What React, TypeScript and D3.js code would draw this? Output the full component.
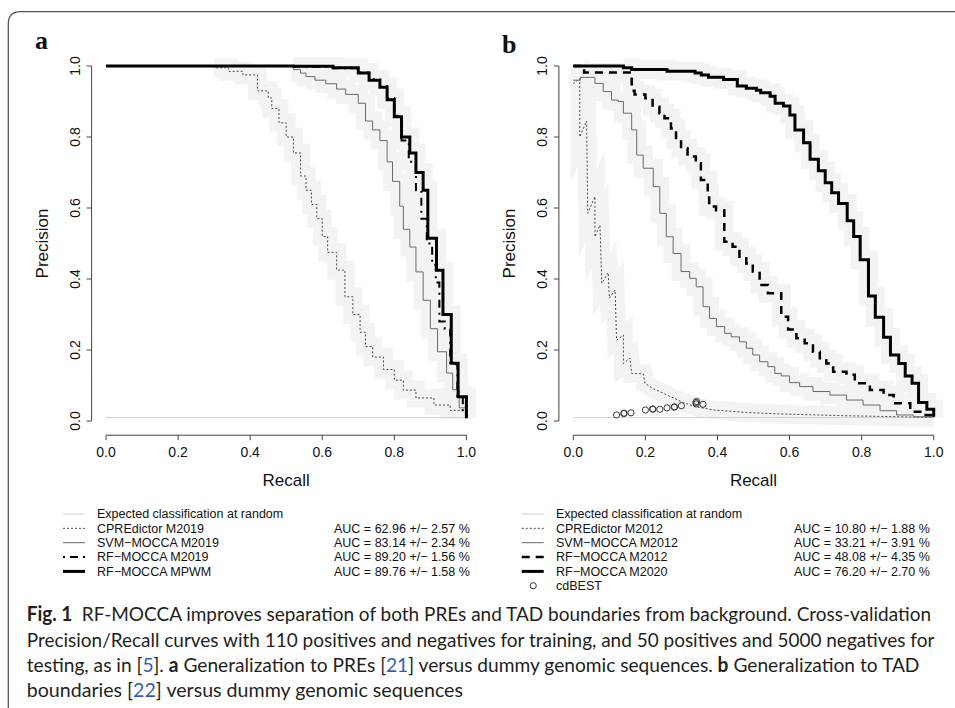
import React, { useLayoutEffect, useRef, useState } from "react";
import * as d3 from "d3";

// ---------- shared ----------
const TICK_VALUES = [0, 0.2, 0.4, 0.6, 0.8, 1.0];
const TICK_LABELS = ["0.0", "0.2", "0.4", "0.6", "0.8", "1.0"];
const RANDOM_PRECISION = 50 / 5050;

// ---------- panel a ----------
const aCpreRecall = [0, 0.30, 0.34, 0.38, 0.42, 0.45, 0.46, 0.48, 0.50, 0.52, 0.54, 0.555, 0.57, 0.585, 0.60, 0.615, 0.64, 0.663, 0.685, 0.705, 0.72, 0.74, 0.77, 0.80, 0.825, 0.86, 0.91, 0.955, 1.0];
const aCprePrecision = [1.0, 0.995, 0.985, 0.975, 0.93, 0.91, 0.88, 0.84, 0.80, 0.755, 0.69, 0.65, 0.61, 0.57, 0.52, 0.475, 0.425, 0.35, 0.30, 0.25, 0.21, 0.18, 0.145, 0.115, 0.087, 0.065, 0.045, 0.03, 0.017];

const aSvmRecall = [0, 0.52, 0.54, 0.555, 0.58, 0.61, 0.64, 0.665, 0.70, 0.72, 0.74, 0.76, 0.78, 0.795, 0.815, 0.825, 0.843, 0.86, 0.88, 0.90, 0.92, 0.945, 0.962, 0.98, 1.0];
const aSvmPrecision = [1.0, 0.99, 0.98, 0.97, 0.96, 0.95, 0.935, 0.92, 0.895, 0.845, 0.82, 0.79, 0.73, 0.675, 0.605, 0.54, 0.49, 0.42, 0.34, 0.26, 0.195, 0.135, 0.088, 0.037, 0.01];

const aRfRecall = [0, 0.52, 0.63, 0.70, 0.73, 0.76, 0.78, 0.80, 0.82, 0.84, 0.86, 0.875, 0.89, 0.905, 0.915, 0.925, 0.94, 0.955, 0.975, 0.99, 1.0];
const aRfPrecision = [1.0, 0.998, 0.994, 0.982, 0.963, 0.943, 0.91, 0.86, 0.79, 0.73, 0.65, 0.57, 0.50, 0.44, 0.39, 0.28, 0.26, 0.16, 0.07, 0.03, 0.01];

const aPwmRecall = [0, 0.52, 0.63, 0.70, 0.73, 0.76, 0.78, 0.80, 0.82, 0.843, 0.86, 0.88, 0.893, 0.917, 0.935, 0.958, 0.977, 1.0];
const aPwmPrecision = [1.0, 0.999, 0.995, 0.98, 0.96, 0.94, 0.905, 0.857, 0.80, 0.755, 0.70, 0.65, 0.515, 0.425, 0.30, 0.163, 0.068, 0.008];

const aLegendLabels = ["Expected classification at random", "CPREdictor M2019", "SVM\u2212MOCCA M2019", "RF\u2212MOCCA M2019", "RF\u2212MOCCA MPWM"];
const aLegendAuc = ["", "AUC = 62.96 +/\u2212 2.57 %", "AUC = 83.14 +/\u2212 2.34 %", "AUC = 89.20 +/\u2212 1.56 %", "AUC = 89.76 +/\u2212 1.58 %"];

// ---------- panel b ----------
const bCpreRecall = [0, 0.018, 0.018, 0.037, 0.04, 0.06, 0.06, 0.074, 0.079, 0.097, 0.10, 0.116, 0.12, 0.139, 0.139, 0.157, 0.162, 0.194, 0.199, 0.22, 0.24, 0.26, 0.28, 0.305, 0.34, 0.39, 0.48, 0.57, 0.75, 1.0];
const bCprePrecision = [0.95, 0.965, 0.80, 0.845, 0.585, 0.632, 0.519, 0.552, 0.388, 0.418, 0.346, 0.369, 0.228, 0.242, 0.162, 0.177, 0.134, 0.133, 0.106, 0.092, 0.083, 0.073, 0.064, 0.052, 0.04, 0.031, 0.024, 0.02, 0.015, 0.01];

const bSvmRecall = [0, 0.02, 0.06, 0.083, 0.106, 0.125, 0.139, 0.162, 0.176, 0.194, 0.222, 0.24, 0.258, 0.277, 0.299, 0.323, 0.341, 0.36, 0.378, 0.397, 0.42, 0.438, 0.461, 0.48, 0.498, 0.517, 0.54, 0.559, 0.577, 0.60, 0.628, 0.665, 0.712, 0.758, 0.804, 0.851, 0.897, 0.943, 1.0];
const bSvmPrecision = [0.96, 0.968, 0.951, 0.928, 0.904, 0.90, 0.867, 0.82, 0.749, 0.712, 0.66, 0.585, 0.519, 0.472, 0.421, 0.402, 0.378, 0.322, 0.289, 0.266, 0.247, 0.237, 0.223, 0.205, 0.186, 0.167, 0.153, 0.134, 0.127, 0.108, 0.097, 0.083, 0.073, 0.059, 0.045, 0.029, 0.017, 0.012, 0.01];

const bRfRecall = [0, 0.03, 0.162, 0.17, 0.20, 0.22, 0.239, 0.253, 0.271, 0.285, 0.299, 0.317, 0.34, 0.354, 0.373, 0.377, 0.396, 0.419, 0.442, 0.461, 0.48, 0.498, 0.517, 0.54, 0.577, 0.596, 0.619, 0.642, 0.665, 0.684, 0.702, 0.721, 0.758, 0.781, 0.823, 0.861, 0.889, 0.935, 0.972, 1.0];
const bRfPrecision = [1.0, 0.982, 0.93, 0.92, 0.909, 0.885, 0.867, 0.853, 0.824, 0.792, 0.768, 0.745, 0.726, 0.679, 0.641, 0.604, 0.594, 0.505, 0.491, 0.463, 0.444, 0.421, 0.383, 0.36, 0.294, 0.258, 0.233, 0.219, 0.195, 0.177, 0.162, 0.139, 0.13, 0.106, 0.087, 0.073, 0.05, 0.026, 0.017, 0.012];

const bPwmRecall = [0, 0.139, 0.162, 0.26, 0.338, 0.355, 0.375, 0.417, 0.455, 0.48, 0.508, 0.52, 0.546, 0.56, 0.583, 0.601, 0.615, 0.639, 0.657, 0.68, 0.699, 0.717, 0.736, 0.76, 0.778, 0.796, 0.819, 0.838, 0.861, 0.88, 0.903, 0.921, 0.94, 0.958, 0.981, 1.0];
const bPwmPrecision = [1.0, 0.995, 0.99, 0.985, 0.98, 0.975, 0.968, 0.962, 0.944, 0.937, 0.932, 0.925, 0.915, 0.895, 0.887, 0.862, 0.82, 0.784, 0.737, 0.705, 0.671, 0.643, 0.613, 0.564, 0.52, 0.454, 0.352, 0.292, 0.236, 0.186, 0.162, 0.127, 0.106, 0.052, 0.033, 0.012];

const bCdbestRecall = [0.12, 0.14, 0.141, 0.16, 0.20, 0.22, 0.221, 0.24, 0.26, 0.28, 0.281, 0.30, 0.34, 0.341, 0.342, 0.36];
const bCdbestPrecision = [0.017, 0.021, 0.022, 0.023, 0.031, 0.034, 0.033, 0.033, 0.037, 0.039, 0.040, 0.043, 0.052, 0.048, 0.055, 0.047];

const bLegendLabels = ["Expected classification at random", "CPREdictor M2012", "SVM\u2212MOCCA M2012", "RF\u2212MOCCA M2012", "RF\u2212MOCCA M2020", "cdBEST"];
const bLegendAuc = ["", "AUC = 10.80 +/\u2212 1.88 %", "AUC = 33.21 +/\u2212 3.91 %", "AUC = 48.08 +/\u2212 4.35 %", "AUC = 76.20 +/\u2212 2.70 %", ""];

// ---------- styles ----------
const FONT = "'Liberation Sans', Arial, Helvetica, sans-serif";
type LineStyle = { stroke: string; width: number; dash?: string };
const ST_RANDOM: LineStyle = { stroke: "#d2d2d2", width: 1 };
const ST_CPRE: LineStyle = { stroke: "#4a4a4a", width: 1, dash: "2,2" };
const ST_SVM: LineStyle = { stroke: "#6a6a6a", width: 1 };
const ST_DOTDASH: LineStyle = { stroke: "#000", width: 2, dash: "2,5,8,5" };
const ST_DASH: LineStyle = { stroke: "#000", width: 2.5, dash: "8,6" };
const ST_THICK: LineStyle = { stroke: "#000", width: 3 };
const BAND_COLOR = "#f2f3f2";

type Series = { recall: number[]; precision: number[]; style: LineStyle; linear?: boolean };

function Panel(props: {
  x0: number;
  series: Series[];
  dots?: { recall: number[]; precision: number[] };
  letter: string;
  letterX: number;
  letterY: number;
}) {
  const { x0, series, dots, letter, letterX, letterY } = props;
  const x = d3.scaleLinear().domain([0, 1]).range([x0, x0 + 360.4]);
  const y = d3.scaleLinear().domain([0, 1]).range([421, 66]);
  const axisX = x(-0.04);
  const axisY = y(-0.04);

  const pathFor = (s: Series, from = 0) => {
    const pts: [number, number][] = s.recall.map((r, i) => [r, s.precision[i]] as [number, number]).slice(from);
    return d3
      .line<[number, number]>()
      .x((d) => x(d[0]))
      .y((d) => y(d[1]))
      .curve(s.linear ? d3.curveLinear : d3.curveStepAfter)(pts) as string;
  };
  const bandStart = (s: Series) => {
    const i = s.precision.findIndex((p) => p < 0.999);
    return Math.max(0, i);
  };

  return (
    <g>
      <text x={letterX} y={letterY} fontFamily="'Liberation Serif', 'DejaVu Serif', serif" fontWeight="bold" fontSize={26} fill="#111">
        {letter}
      </text>
      {/* bands */}
      {series.map((s, i) => (
        <path key={"b" + i} d={pathFor(s, bandStart(s))} fill="none" stroke={BAND_COLOR} strokeWidth={19} strokeLinejoin="miter" strokeMiterlimit={10} />
      ))}
      {/* random baseline */}
      <line x1={x(0)} x2={x(1)} y1={y(RANDOM_PRECISION)} y2={y(RANDOM_PRECISION)} stroke={ST_RANDOM.stroke} strokeWidth={ST_RANDOM.width} />
      {/* curves */}
      {series.map((s, i) => (
        <path key={"c" + i} d={pathFor(s)} fill="none" stroke={s.style.stroke} strokeWidth={s.style.width} strokeDasharray={s.style.dash} />
      ))}
      {dots &&
        dots.recall.map((r, i) => (
          <circle key={"d" + i} cx={x(r)} cy={y(dots.precision[i])} r={3.1} fill="none" stroke="#3a3a3a" strokeWidth={1} />
        ))}
      {/* y axis */}
      <line x1={axisX} x2={axisX} y1={y(0)} y2={y(1)} stroke="#444" strokeWidth={1} />
      {TICK_VALUES.map((t, i) => (
        <g key={"yt" + i}>
          <line x1={axisX} x2={axisX - 5} y1={y(t)} y2={y(t)} stroke="#444" strokeWidth={1} />
          <text transform={`translate(${axisX - 12},${y(t)}) rotate(-90)`} textAnchor="middle" fontFamily={FONT} fontSize={14} fill="#111">
            {TICK_LABELS[i]}
          </text>
        </g>
      ))}
      {/* x axis */}
      <line x1={x(0)} x2={x(1)} y1={axisY} y2={axisY} stroke="#444" strokeWidth={1} />
      {TICK_VALUES.map((t, i) => (
        <g key={"xt" + i}>
          <line x1={x(t)} x2={x(t)} y1={axisY} y2={axisY + 5} stroke="#444" strokeWidth={1} />
          <text x={x(t)} y={axisY + 22} textAnchor="middle" fontFamily={FONT} fontSize={14} fill="#111">
            {TICK_LABELS[i]}
          </text>
        </g>
      ))}
      <text x={x(0.5)} y={486} textAnchor="middle" fontFamily={FONT} fontSize={17} fill="#111">
        Recall
      </text>
      <text transform={`translate(${axisX - 44},${y(0.5)}) rotate(-90)`} textAnchor="middle" fontFamily={FONT} fontSize={17} fill="#111">
        Precision
      </text>
    </g>
  );
}

function Legend(props: { lineX: number; textX: number; aucX: number; labels: string[]; auc: string[]; styles: (LineStyle | null)[] }) {
  const { lineX, textX, aucX, labels, auc, styles } = props;
  const y0 = 518.3;
  const dy = 14.35;
  return (
    <g fontFamily={FONT} fontSize={12.5} fill="#111">
      {labels.map((lab, i) => {
        const by = y0 + i * dy;
        const st = styles[i];
        return (
          <g key={i}>
            {st ? (
              <line x1={lineX} x2={lineX + 22} y1={by - 4.3} y2={by - 4.3} stroke={st.stroke} strokeWidth={st.width} strokeDasharray={st.dash} />
            ) : (
              <circle cx={lineX + 11.5} cy={by - 4.3} r={3.1} fill="none" stroke="#333" strokeWidth={1} />
            )}
            <text x={textX} y={by}>{lab}</text>
            {auc[i] ? <text x={aucX} y={by}>{auc[i]}</text> : null}
          </g>
        );
      })}
    </g>
  );
}

function FitLine(props: { x: number; y: number; width: number; children: React.ReactNode }) {
  const ref = useRef<SVGTextElement>(null);
  const [k, setK] = useState(1);
  useLayoutEffect(() => {
    if (ref.current) {
      const w = ref.current.getComputedTextLength();
      if (w > 0) setK(props.width / w);
    }
  }, [props.width]);
  return (
    <text ref={ref} x={0} y={0} transform={`translate(${props.x},${props.y}) scale(${k},1)`}>
      {props.children}
    </text>
  );
}

export default function App() {
  const seriesA: Series[] = [
    { recall: aCpreRecall, precision: aCprePrecision, style: ST_CPRE },
    { recall: aSvmRecall, precision: aSvmPrecision, style: ST_SVM },
    { recall: aRfRecall, precision: aRfPrecision, style: ST_DOTDASH },
    { recall: aPwmRecall, precision: aPwmPrecision, style: ST_THICK },
  ];
  const seriesB: Series[] = [
    { recall: bCpreRecall, precision: bCprePrecision, style: ST_CPRE, linear: true },
    { recall: bSvmRecall, precision: bSvmPrecision, style: ST_SVM },
    { recall: bRfRecall, precision: bRfPrecision, style: ST_DASH },
    { recall: bPwmRecall, precision: bPwmPrecision, style: ST_THICK },
  ];
  const capFont = "Lato, 'Open Sans', 'Noto Sans', sans-serif";
  const blue = "#2f5cb8";
  return (
    <svg width={955} height={708} viewBox="0 0 955 708" style={{ position: "absolute", left: 0, top: 0, background: "#fff" }}>
      <rect x={0} y={0} width={955} height={708} fill="#fff" />
      <path d="M8.3,708 V24 Q8.3,11.7 20.6,11.7 H955" fill="none" stroke="#555" strokeWidth={1.3} />
      <Panel x0={106} series={seriesA} letter="a" letterX={35} letterY={49} />
      <Panel x0={573.3} series={seriesB} dots={{ recall: bCdbestRecall, precision: bCdbestPrecision }} letter="b" letterX={502} letterY={53} />
      <Legend lineX={63} textX={97} aucX={334} labels={aLegendLabels} auc={aLegendAuc} styles={[ST_RANDOM, ST_CPRE, ST_SVM, ST_DOTDASH, ST_THICK]} />
      <Legend lineX={521.7} textX={556} aucX={794} labels={bLegendLabels} auc={bLegendAuc} styles={[ST_RANDOM, ST_CPRE, ST_SVM, ST_DASH, ST_THICK, null]} />
      <g fontFamily={capFont} fontSize={20} fill="#231f20">
        <FitLine x={26.7} y={620.7} width={905}>
          <tspan fontWeight="bold">Fig. 1</tspan>
          {"\u2002RF-MOCCA improves separation of both PREs and TAD boundaries from background. Cross-validation"}
        </FitLine>
        <FitLine x={26.7} y={646.7} width={908}>
          Precision/Recall curves with 110 positives and negatives for training, and 50 positives and 5000 negatives for
        </FitLine>
        <FitLine x={26.7} y={671.7} width={893}>
          testing, as in [<tspan fill={blue}>5</tspan>]. <tspan fontWeight="bold">a</tspan> Generalization to PREs [<tspan fill={blue}>21</tspan>] versus dummy genomic sequences. <tspan fontWeight="bold">b</tspan> Generalization to TAD
        </FitLine>
        <FitLine x={26.7} y={696.7} width={436.6}>
          boundaries [<tspan fill={blue}>22</tspan>] versus dummy genomic sequences
        </FitLine>
      </g>
    </svg>
  );
}
